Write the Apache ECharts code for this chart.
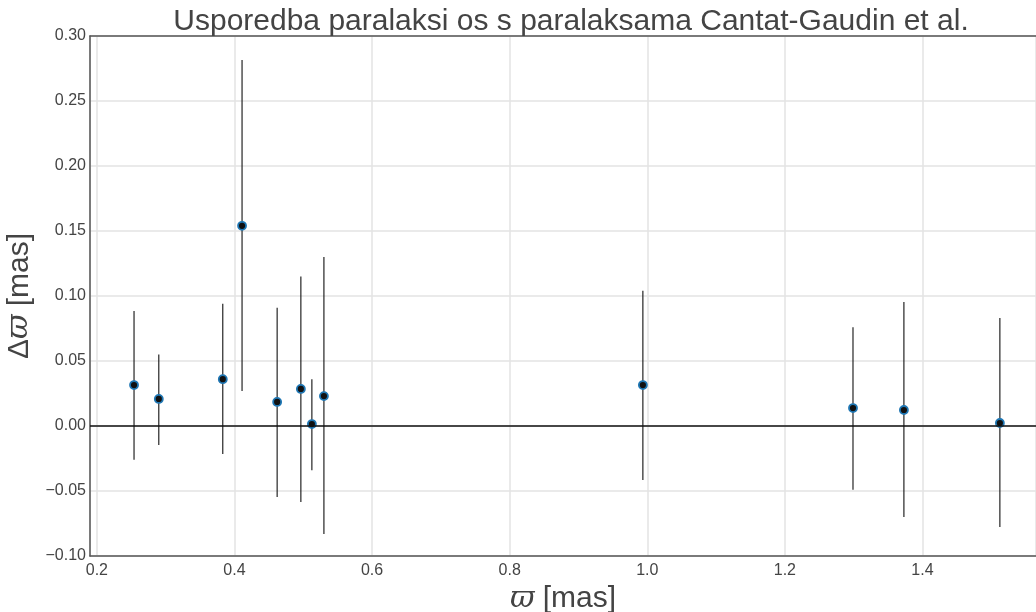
<!DOCTYPE html>
<html><head><meta charset="utf-8">
<script src="https://cdn.jsdelivr.net/npm/echarts@6/dist/echarts.min.js"></script>
<style>html,body{margin:0;padding:0;background:#fff}#c{width:1036px;height:612px}</style>
</head><body><div id="c"></div>
<script>
const titleText = 'Usporedba paralaksi os s paralaksama Cantat-Gaudin et al.';
const xName = '{i|ϖ} [mas]';
const yName = 'Δ{i|ϖ} [mas]';
const plx = [0.254, 0.290, 0.383, 0.411, 0.462, 0.4965, 0.5125, 0.530, 0.9936, 1.299, 1.373, 1.5125];
const dplx = [0.0315, 0.0208, 0.036, 0.154, 0.0185, 0.0285, 0.0015, 0.023, 0.0315, 0.0138, 0.0123, 0.0023];
const errHi = [0.0885, 0.055, 0.094, 0.2815, 0.091, 0.115, 0.036, 0.130, 0.104, 0.076, 0.0954, 0.083];
const errLo = [-0.026, -0.0146, -0.0215, 0.027, -0.0546, -0.0585, -0.034, -0.083, -0.0415, -0.049, -0.070, -0.0777];

const font = 'Liberation Sans, Arial, sans-serif';
const chart = echarts.init(document.getElementById('c'), null, {renderer: 'canvas'});
const pts = plx.map((x, i) => [x, dplx[i]]);
const bars = plx.map((x, i) => [x, errLo[i], errHi[i]]);
const nameStyle = {fontFamily: font, fontSize: 30, color: '#444',
  rich: {i: {fontFamily: 'DejaVu Serif, serif', fontStyle: 'italic', fontSize: 30, color: '#444'}}};
chart.setOption({
  animation: false,
  backgroundColor: '#fff',
  title: {text: titleText, left: 566, top: 2, textAlign: 'center',
    textStyle: {fontFamily: font, fontSize: 30, fontWeight: 'normal', color: '#444'}},
  grid: {left: 90, right: 0, top: 36, bottom: 56, outerBoundsMode: 'none', containLabel: false},
  xAxis: [{
    type: 'value', min: 0.19, max: 1.565, splitNumber: 7,
    name: xName, nameLocation: 'middle', nameGap: 25,
    nameTextStyle: nameStyle,
    axisLine: {show: true, onZero: false, lineStyle: {color: '#555', width: 1.5}},
    axisTick: {show: false},
    axisLabel: {fontFamily: font, fontSize: 16, color: '#444', margin: 7, showMinLabel: false, showMaxLabel: false,
      formatter: v => v.toFixed(1)},
    splitLine: {show: true, lineStyle: {color: '#e3e3e3', width: 1.5}}
  }, {
    type: 'value', position: 'top', min: 0.19, max: 1.565,
    axisLine: {show: true, onZero: false, lineStyle: {color: '#555', width: 1.5}},
    axisTick: {show: false}, axisLabel: {show: false}, splitLine: {show: false}
  }],
  yAxis: {
    type: 'value', min: -0.1, max: 0.3, interval: 0.05,
    name: yName, nameLocation: 'middle', nameGap: 50,
    nameTextStyle: nameStyle,
    axisLine: {show: true, onZero: false, lineStyle: {color: '#555', width: 1.5}},
    axisTick: {show: false},
    axisLabel: {fontFamily: font, fontSize: 16, color: '#444', margin: 4,
      formatter: v => (v < 0 ? '\u2212' + Math.abs(v).toFixed(2) : v.toFixed(2))},
    splitLine: {show: true, lineStyle: {color: '#e3e3e3', width: 1.5}}
  },
  series: [{
    type: 'custom',
    data: bars,
    renderItem: (params, api) => {
      const a = api.coord([api.value(0), api.value(1)]);
      const b = api.coord([api.value(0), api.value(2)]);
      return {type: 'line', shape: {x1: a[0], y1: a[1], x2: b[0], y2: b[1]},
        style: {stroke: '#111', lineWidth: 1.1}};
    },
    z: 2
  }, {
    type: 'scatter', data: pts, symbolSize: 8,
    itemStyle: {color: '#111', borderColor: '#1f77b4', borderWidth: 1.8, opacity: 1},
    z: 4,
    markLine: {silent: true, symbol: 'none', label: {show: false},
      lineStyle: {color: '#111', width: 1.5, type: 'solid'},
      data: [{yAxis: 0}]}
  }]
});
</script></body></html>
